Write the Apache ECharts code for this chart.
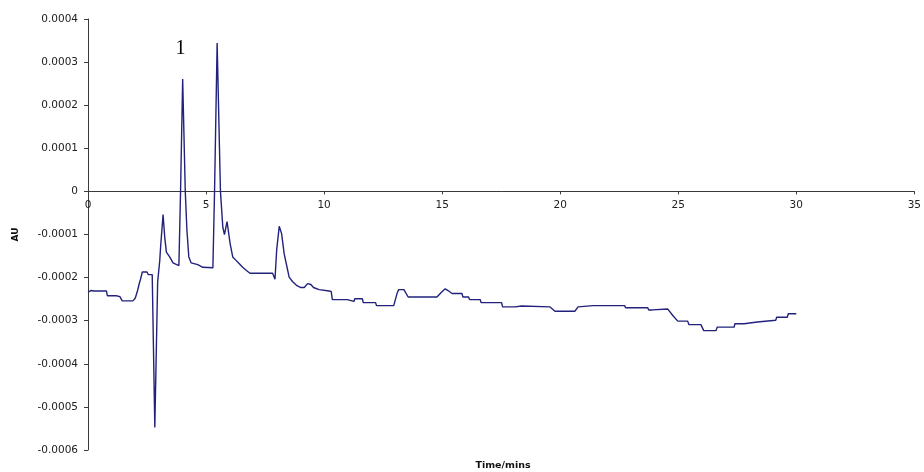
<!DOCTYPE html>
<html>
<head>
<meta charset="utf-8">
<script src="https://cdn.jsdelivr.net/npm/echarts@6/dist/echarts.min.js"></script>
<style>
  html, body { margin: 0; padding: 0; background: #fff; }
  #chart { width: 924px; height: 472px; }
</style>
</head>
<body>
<div id="chart"></div>
<script>
// Retention time (minutes) of each trace sample
const timeMins = [
  0.00, 0.12, 0.25, 0.78, 0.82, 1.20, 1.25, 1.35, 1.45, 1.90,
  2.00, 2.10, 2.18, 2.22, 2.30, 2.50, 2.55, 2.72, 2.83, 2.95,
  3.04, 3.08, 3.18, 3.25, 3.32, 3.46, 3.60, 3.85, 3.88, 3.92,
  4.01, 4.12, 4.19, 4.27, 4.37, 4.65, 4.86, 5.29, 5.36, 5.47,
  5.61, 5.71, 5.78, 5.89, 6.02, 6.13, 6.27, 6.41, 6.55, 6.70,
  6.86, 7.82, 7.92, 7.99, 8.10, 8.20, 8.31, 8.43, 8.52, 8.66,
  8.83, 9.02, 9.16, 9.30, 9.44, 9.55, 9.79, 10.21, 10.30, 10.35,
  10.98, 11.02, 11.27, 11.30, 11.62, 11.66, 12.18, 12.22, 12.95, 13.10,
  13.16, 13.38, 13.56, 14.78, 14.95, 15.13, 15.25, 15.42, 15.84, 15.88,
  16.12, 16.16, 16.61, 16.65, 17.52, 17.56, 18.09, 18.12, 18.37, 18.40,
  19.57, 19.78, 20.62, 20.76, 21.39, 22.73, 22.77, 23.71, 23.75, 23.90,
  23.95, 24.56, 24.77, 24.98, 25.40, 25.45, 25.96, 26.08, 26.60, 26.65,
  27.37, 27.40, 27.79, 27.83, 28.35, 28.39, 29.13, 29.17, 29.62, 29.66,
  30.00
];

// Detector absorbance (AU) at each sample
const absorbance = [
  -0.000234, -0.000230, -0.000231, -0.000231, -0.000242, -0.000242, -0.000244, -0.000244, -0.000254, -0.000254,
  -0.000248, -0.000230, -0.000212, -0.000205, -0.000187, -0.000187, -0.000193, -0.000193, -0.000548, -0.000210,
  -0.000160, -0.000125, -0.000054, -0.000106, -0.000141, -0.000152, -0.000166, -0.000172, -0.000174, 0.000000,
  0.000261, 0.000000, -0.000090, -0.000152, -0.000166, -0.000170, -0.000176, -0.000177, 0.000000, 0.000344,
  0.000000, -0.000083, -0.000100, -0.000070, -0.000121, -0.000152, -0.000160, -0.000168, -0.000176, -0.000183,
  -0.000190, -0.000190, -0.000204, -0.000137, -0.000081, -0.000098, -0.000145, -0.000176, -0.000199, -0.000209,
  -0.000218, -0.000223, -0.000223, -0.000214, -0.000216, -0.000223, -0.000228, -0.000231, -0.000232, -0.000251,
  -0.000251, -0.000255, -0.000255, -0.000249, -0.000249, -0.000258, -0.000258, -0.000265, -0.000265, -0.000235,
  -0.000228, -0.000228, -0.000245, -0.000245, -0.000235, -0.000226, -0.000230, -0.000237, -0.000237, -0.000245,
  -0.000245, -0.000251, -0.000251, -0.000258, -0.000258, -0.000268, -0.000268, -0.000266, -0.000266, -0.000268,
  -0.000268, -0.000278, -0.000278, -0.000268, -0.000265, -0.000265, -0.000270, -0.000270, -0.000275, -0.000275,
  -0.000273, -0.000273, -0.000288, -0.000301, -0.000301, -0.000309, -0.000309, -0.000323, -0.000323, -0.000315,
  -0.000315, -0.000307, -0.000307, -0.000303, -0.000303, -0.000299, -0.000299, -0.000292, -0.000292, -0.000284,
  -0.000284
];

// Axis ranges
const xMin = 0, xMax = 35, xStep = 5;
const yMin = -0.0006, yMax = 0.0004, yStep = 0.0001;

// Peak annotation
const peakLabel = '1';
const peakLabelAt = [3.92, 0.000332];

const points = timeMins.map((t, i) => [t, absorbance[i]]);

// Plot box
const gridBox = { left: 88, right: 7, top: 19, bottom: 22 };
const plotHeight = 472 - gridBox.top - gridBox.bottom;
// The time axis runs along AU = 0, so lift it from the bottom edge
const zeroLift = plotHeight * (0 - yMin) / (yMax - yMin);

const axisColor = '#3a3a3a';
const labelFont = { fontFamily: 'DejaVu Sans', fontSize: 10.5, color: '#222' };

const chart = echarts.init(document.getElementById('chart'), null, { renderer: 'canvas' });
chart.setOption({
  animation: false,
  backgroundColor: '#ffffff',
  grid: gridBox,
  xAxis: {
    type: 'value',
    min: xMin,
    max: xMax,
    interval: xStep,
    position: 'bottom',
    offset: -zeroLift,
    axisLine: { onZero: false, lineStyle: { color: axisColor, width: 1 } },
    axisTick: { show: true, length: 3, lineStyle: { color: axisColor } },
    axisLabel: Object.assign({ margin: 8 }, labelFont),
    splitLine: { show: false }
  },
  yAxis: {
    type: 'value',
    min: yMin,
    max: yMax,
    interval: yStep,
    name: 'AU',
    nameLocation: 'middle',
    nameGap: 68,
    nameRotate: 90,
    nameTextStyle: { fontFamily: 'DejaVu Sans', fontSize: 9, fontWeight: 'bold', color: '#111' },
    axisLine: { show: true, onZero: false, lineStyle: { color: axisColor, width: 1 } },
    axisTick: { show: true, length: 4, lineStyle: { color: axisColor } },
    axisLabel: Object.assign({
      margin: 10,
      formatter: v => {
        const r = Math.round(v * 10000) / 10000;
        return r === 0 ? '0' : r.toFixed(4);
      }
    }, labelFont),
    splitLine: { show: false }
  },
  graphic: [{
    type: 'text',
    x: 503,
    y: 466,
    style: {
      text: 'Time/mins',
      font: 'bold 9.5px "DejaVu Sans"',
      fill: '#111',
      align: 'center',
      verticalAlign: 'middle'
    }
  }],
  series: [{
    type: 'line',
    data: points,
    showSymbol: false,
    symbol: 'none',
    lineStyle: { color: '#22227c', width: 1.4 },
    markPoint: {
      symbol: 'circle',
      symbolSize: 0,
      data: [{ coord: peakLabelAt, value: peakLabel }],
      label: {
        show: true,
        position: 'inside',
        formatter: peakLabel,
        fontFamily: 'Liberation Serif',
        fontSize: 20,
        color: '#000'
      }
    }
  }]
});
</script>
</body>
</html>
